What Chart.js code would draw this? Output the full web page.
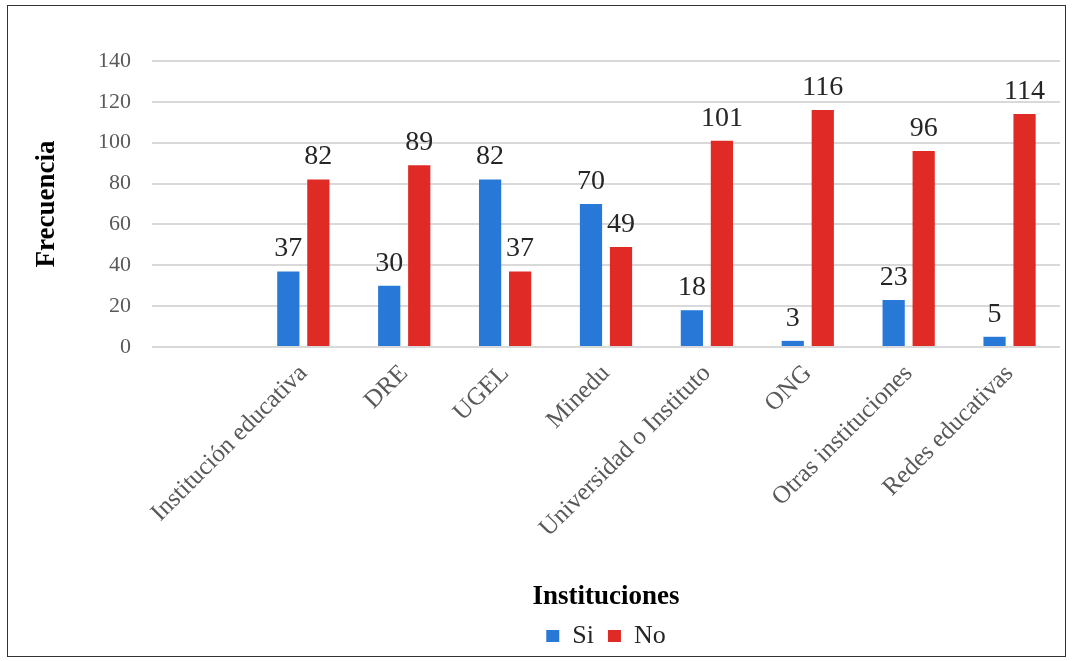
<!DOCTYPE html>
<html>
<head>
<meta charset="utf-8">
<script src="https://cdn.jsdelivr.net/npm/chart.js@4.4.1/dist/chart.umd.min.js"></script>
<style>
  body { margin: 0; background: #fff; }
  #wrap { position: relative; width: 1073px; height: 661px; }
  #frame {
    position: absolute; left: 7px; top: 5px; width: 1059px; height: 652px;
    border: 1px solid #333; box-sizing: border-box; pointer-events: none;
  }
</style>
</head>
<body>
<div id="wrap">
  <canvas id="chart" width="1073" height="661"></canvas>
  <div id="frame"></div>
</div>
<script>
// ---- data ----
const categories = ["", "Institución educativa", "DRE", "UGEL", "Minedu",
  "Universidad o Instituto", "ONG", "Otras instituciones", "Redes educativas"];
const siValues = [null, 37, 30, 82, 70, 18, 3, 23, 5];
const noValues = [null, 82, 89, 37, 49, 101, 116, 96, 114];
const yTicks = { min: 0, max: 140, step: 20 };

const SERIF = "'Liberation Serif', 'Times New Roman', serif";

// draws the value above every bar
const valueLabels = {
  id: "valueLabels",
  afterDatasetsDraw(chart) {
    const ctx = chart.ctx;
    ctx.save();
    ctx.font = "28px " + SERIF;
    ctx.fillStyle = "#262626";
    ctx.textAlign = "center";
    ctx.textBaseline = "alphabetic";
    chart.data.datasets.forEach((ds, i) => {
      chart.getDatasetMeta(i).data.forEach((bar, j) => {
        if (ds.data[j] == null) return;
        ctx.fillText(String(ds.data[j]), bar.x, bar.y - 15);
      });
    });
    ctx.restore();
  }
};

new Chart(document.getElementById("chart"), {
  type: "bar",
  data: {
    labels: categories,
    datasets: [
      { label: "Si", data: siValues, backgroundColor: "#2878d8" },
      { label: "No", data: noValues, backgroundColor: "#e02a25" }
    ]
  },
  options: {
    responsive: false,
    animation: false,
    categoryPercentage: 0.595,
    barPercentage: 0.74,
    layout: { padding: { left: 0, right: 13, top: 61, bottom: 2 } },
    plugins: {
      legend: {
        position: "bottom",
        fullSize: false,
        labels: {
          boxWidth: 13, boxHeight: 12, padding: 14,
          color: "#262626",
          font: { family: SERIF, size: 26 }
        }
      },
      tooltip: { enabled: false }
    },
    scales: {
      x: {
        grid: { display: false },
        border: { display: false },
        ticks: {
          color: "#595959",
          font: { family: SERIF, size: 25 },
          maxRotation: 45, minRotation: 45,
          padding: 4, autoSkip: false
        },
        title: {
          display: true, text: "Instituciones", color: "#000",
          font: { family: SERIF, size: 27, weight: "bold" },
          padding: { top: 0, bottom: -4 }
        },
        afterFit(scale) { scale.height = 262; }
      },
      y: {
        min: yTicks.min, max: yTicks.max,
        grid: { color: "#d9d9d9", lineWidth: 2, drawTicks: false },
        border: { display: false },
        ticks: {
          stepSize: yTicks.step, padding: 21, color: "#595959",
          font: { family: SERIF, size: 22 }
        },
        title: {
          display: true, text: "Frecuencia", color: "#000",
          font: { family: SERIF, size: 27, weight: "bold" },
          padding: { top: 31, bottom: 0 }
        },
        afterFit(scale) { scale.width = 152; }
      }
    }
  },
  plugins: [valueLabels]
});
</script>
</body>
</html>
